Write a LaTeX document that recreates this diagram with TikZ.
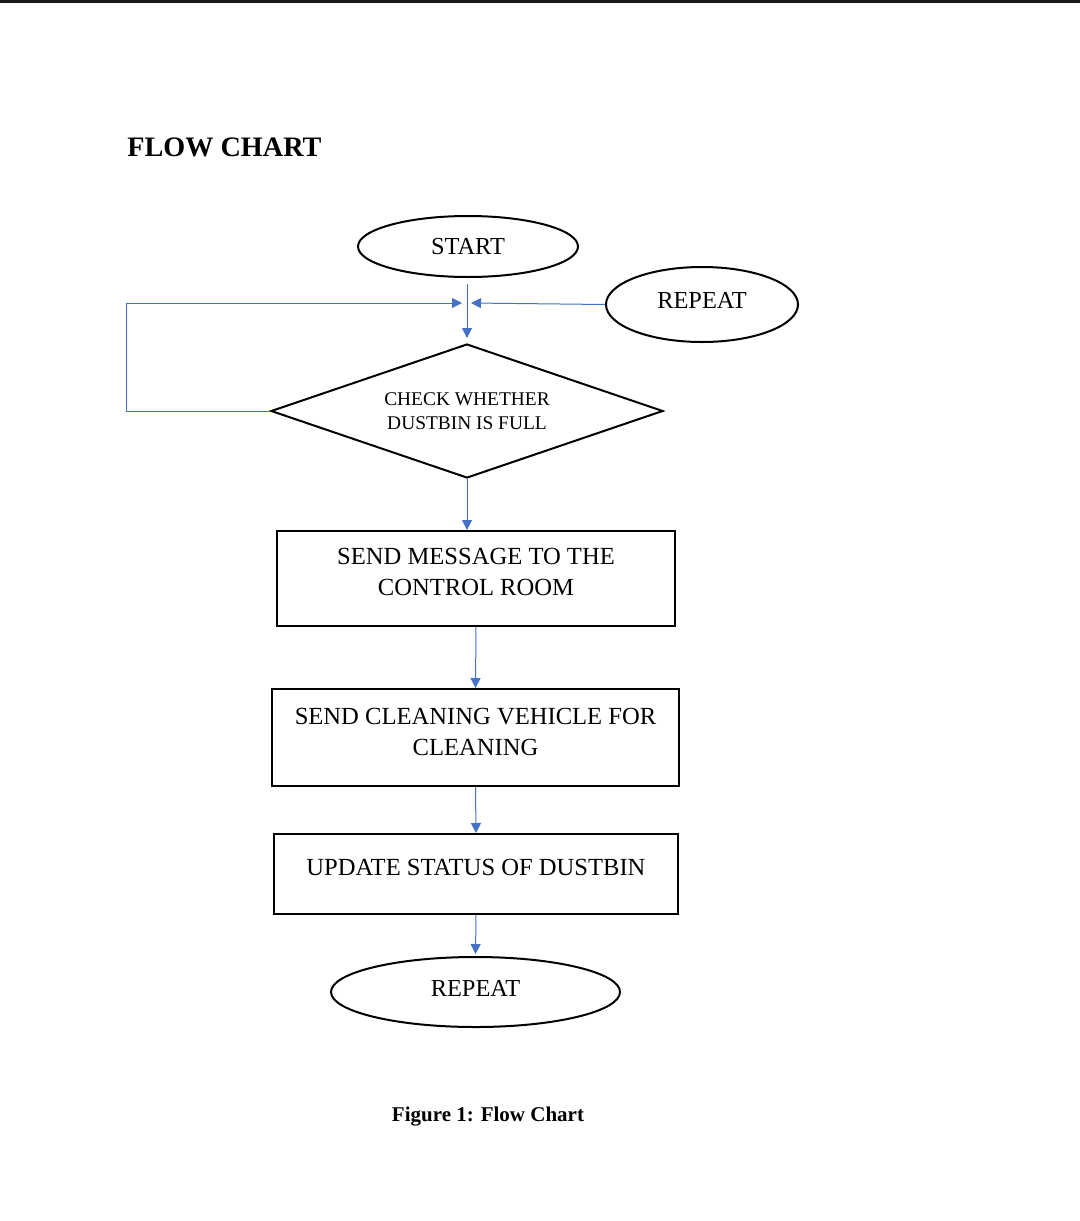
\documentclass[tikz,border=0pt]{standalone}
\usepackage{fontspec}
\setmainfont{Liberation Serif}
\usepackage{tikz}
\usetikzlibrary{shapes.geometric,arrows.meta}

\definecolor{flowblue}{RGB}{68,114,196}
\tikzset{
  oval/.style={draw, ellipse, line width=1pt, inner sep=0pt, font=\fontsize{12.2}{14}\selectfont},
  stepbox/.style={draw, rectangle, line width=1pt, inner sep=0pt, align=center, text depth=7pt, font=\fontsize{12.3}{15.5}\selectfont},
  flow/.style={draw=flowblue, line width=0.5pt, -{Triangle[width=5pt,length=5pt]}, color=flowblue}
}

\begin{document}
\begin{tikzpicture}[x=0.5pt,y=0.5pt,yscale=-1,xscale=1]
\useasboundingbox (0,0) rectangle (1080,1221);
%top bar
\fill [black!90] (0,0) rectangle (1080,3);

% Text Node
\node (title) [anchor=west, inner sep=0pt, font=\bfseries\fontsize{14.1}{16}\selectfont] at (127,147) {FLOW CHART};

%Shapes
\node (start) [oval, minimum width=110pt, minimum height=30.5pt] at (468,246.5) {START};
\node (repeatTop) [oval, text depth=4pt, minimum width=96pt, minimum height=37.5pt] at (702,304.5) {REPEAT};
\node (check) [draw, diamond, line width=1pt, inner sep=0pt, aspect=2.93, minimum width=196pt, minimum height=67pt, align=center, font=\fontsize{9.7}{12}\selectfont] at (467,411) {CHECK WHETHER\\DUSTBIN IS FULL};
\node (msg) [stepbox, minimum width=199pt, minimum height=47.5pt] at (476,578.5) {SEND MESSAGE TO THE\\CONTROL ROOM};
\node (vehicle) [stepbox, text depth=5.5pt, minimum width=203.5pt, minimum height=48.5pt] at (475.5,737.5) {SEND CLEANING VEHICLE FOR\\CLEANING};
\node (status) [stepbox, minimum width=202pt, minimum height=40pt] at (476,874) {UPDATE STATUS OF DUSTBIN};
\node (repeatBot) [oval, text depth=4pt, minimum width=144.5pt, minimum height=35pt] at (475.5,992) {REPEAT};

%Join points
\coordinate (joinL) at (462,303);
\coordinate (joinR) at (471,303);

%Straight Lines
\draw [flow, shorten <=3pt, shorten >=2.5pt] (start.south -| check.north) -- (check.north);
\draw [flow] (check.west) -- ++(-144,0) |- (joinL);
\draw [flow] (repeatTop.west) -- (joinR);
\draw [flow] (check.south) -- (check.south |- msg.north);
\draw [flow] (msg.south) -- (vehicle.north);
\draw [flow] (vehicle.south) -- (status.north);
\draw [flow, shorten >=1pt] (status.south) -- (repeatBot.north);

% Text Node
\node (caption) [font=\bfseries\fontsize{10.5}{12}\selectfont] at (488,1117) {Figure 1: Flow Chart};

\end{tikzpicture}
\end{document}
